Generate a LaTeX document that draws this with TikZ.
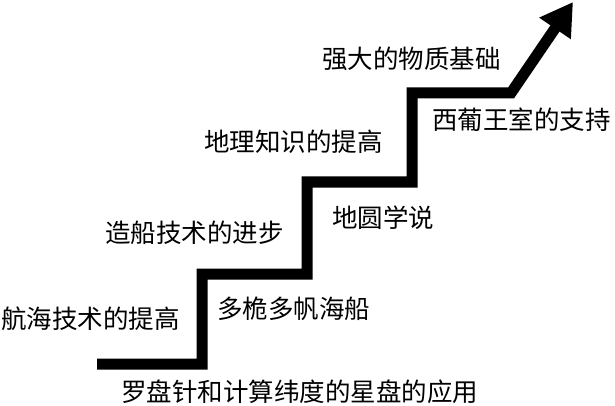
\documentclass[tikz,border=0pt]{standalone}
\usepackage{fontspec}
\newfontfamily\cjk{Noto Sans CJK SC}
\usepackage{tikz}
\usetikzlibrary{arrows.meta,positioning,calc}

\begin{document}
\begin{tikzpicture}[
				x=1pt, y=-1pt,
				stair/.style={line width=11pt, line join=miter, -{Triangle[length=32pt,width=36pt]}},
				lbl/.style={anchor=west, inner sep=0pt, font=\cjk\fontsize{25.5}{30}\selectfont},
			]
			\pgfmathsetmacro{\sa}{364}
			\pgfmathsetmacro{\sb}{274}
			\pgfmathsetmacro{\sc}{182}
			\pgfmathsetmacro{\sd}{93}

			\useasboundingbox (0,0) rectangle (615,406);

			\coordinate (p0) at (97,\sa);
			\coordinate (p1) at (202,\sa);
			\coordinate (p2) at (202,\sb);
			\coordinate (p3) at (307,\sb);
			\coordinate (p4) at (307,\sc);
			\coordinate (p5) at (412,\sc);
			\coordinate (p6) at (412,\sd);
			\coordinate (p7) at (511,\sd);
			\coordinate (tip) at (573,2);

			\draw[stair] (p0) -- (p1) -- (p2) -- (p3) -- (p4) -- (p5) -- (p6) -- (p7) -- (tip);

			% above the steps
			\node[lbl] (hanghai) at (1,319) {航海技术的提高};
			\node[lbl] (zaochuan) at (105,233) {造船技术的进步};
			\node[lbl] (dili) at (204,142) {地理知识的提高};
			\node[lbl] (wuzhi) at (322,59) {强大的物质基础};

			% below the steps
			\node[lbl] (luopan) at (121,392) {罗盘针和计算纬度的星盘的应用};
			\node[lbl] (haichuan) at (217,309) {多桅多帆海船};
			\node[lbl] (diyuan) at (332,218) {地圆学说};
			\node[lbl] (wangshi) at (432,120) {西葡王室的支持};

		\end{tikzpicture}
\end{document}
